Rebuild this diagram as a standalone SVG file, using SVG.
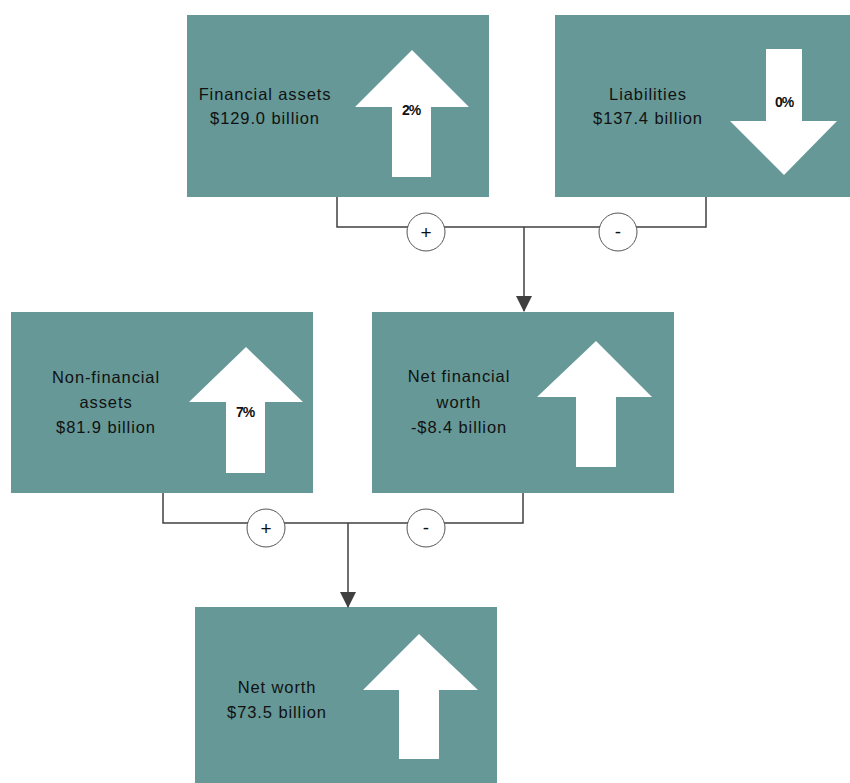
<svg xmlns="http://www.w3.org/2000/svg" width="850" height="783" viewBox="0 0 850 783">
<style>
.box{fill:#659897;}
.arr{fill:#ffffff;}
.lbl{font-family:"Liberation Sans",Arial,sans-serif;font-size:16.5px;letter-spacing:0.9px;fill:#111;text-anchor:middle;}
.pct{font-family:"Liberation Sans",Arial,sans-serif;font-size:14px;font-weight:bold;letter-spacing:-1px;fill:#111;text-anchor:middle;}
.ln{fill:none;stroke:#404040;stroke-width:1.5;}
.op{fill:#ffffff;stroke:#555;stroke-width:1;}
.opt{font-family:"Liberation Sans",Arial,sans-serif;font-size:19px;fill:#111;text-anchor:middle;}
</style>
<defs>
<marker id="ah" markerWidth="16" markerHeight="16" refX="15" refY="8" orient="auto" markerUnits="userSpaceOnUse" viewBox="0 0 16 16">
<path d="M0,0 L16,8 L0,16 z" fill="#404040"/>
</marker>
</defs>
<rect width="850" height="783" fill="#ffffff"/>

<g id="financial-assets">
<rect class="box" x="187" y="15" width="302" height="182"/>
<polygon class="arr" points="412,50 469,107 431,107 431,177 392,177 392,107 355,107"/>
<text class="lbl" x="265" y="100">Financial assets</text>
<text class="lbl" x="265" y="124">$129.0 billion</text>
<text class="pct" x="411" y="115">2%</text>
</g>

<g id="liabilities">
<rect class="box" x="555" y="15" width="302" height="182"/>
<polygon class="arr" points="766,49 802,49 802,121 837,121 784,175 730,121 766,121"/>
<text class="lbl" x="648" y="100">Liabilities</text>
<text class="lbl" x="648" y="124">$137.4 billion</text>
<text class="pct" x="784" y="107">0%</text>
</g>

<g id="non-financial-assets">
<rect class="box" x="11" y="312" width="302" height="181"/>
<polygon class="arr" points="246,347 303,402 265,402 265,473 226,473 226,402 189,402"/>
<text class="lbl" x="106" y="383">Non-financial</text>
<text class="lbl" x="106" y="408">assets</text>
<text class="lbl" x="106" y="433">$81.9 billion</text>
<text class="pct" x="245" y="417">7%</text>
</g>

<g id="net-financial-worth">
<rect class="box" x="372" y="312" width="302" height="181"/>
<polygon class="arr" points="596,341 652,397 616,397 616,467 576,467 576,397 537,397"/>
<text class="lbl" x="459" y="382">Net financial</text>
<text class="lbl" x="459" y="408">worth</text>
<text class="lbl" x="459" y="433">-$8.4 billion</text>
</g>

<g id="net-worth">
<rect class="box" x="195" y="607" width="302" height="182"/>
<polygon class="arr" points="419,634 478,690 439,690 439,759 399,759 399,690 363,690"/>
<text class="lbl" x="277" y="693">Net worth</text>
<text class="lbl" x="277" y="718">$73.5 billion</text>
</g>

<g id="connectors">
<polyline class="ln" points="337,197 337,227 706,227 706,197"/>
<line class="ln" x1="524" y1="227" x2="524" y2="311" marker-end="url(#ah)"/>
<polyline class="ln" points="163,493 163,523 523,523 523,493"/>
<line class="ln" x1="348" y1="523" x2="348" y2="607" marker-end="url(#ah)"/>
</g>

<g id="op-plus-1">
<circle class="op" cx="426" cy="232" r="19"/>
<text class="opt" x="426" y="239">+</text>
</g>
<g id="op-minus-1">
<circle class="op" cx="618" cy="232" r="19"/>
<text class="opt" x="618" y="238">-</text>
</g>
<g id="op-plus-2">
<circle class="op" cx="266" cy="528" r="19"/>
<text class="opt" x="266" y="535">+</text>
</g>
<g id="op-minus-2">
<circle class="op" cx="426" cy="528" r="19"/>
<text class="opt" x="426" y="534">-</text>
</g>
</svg>
